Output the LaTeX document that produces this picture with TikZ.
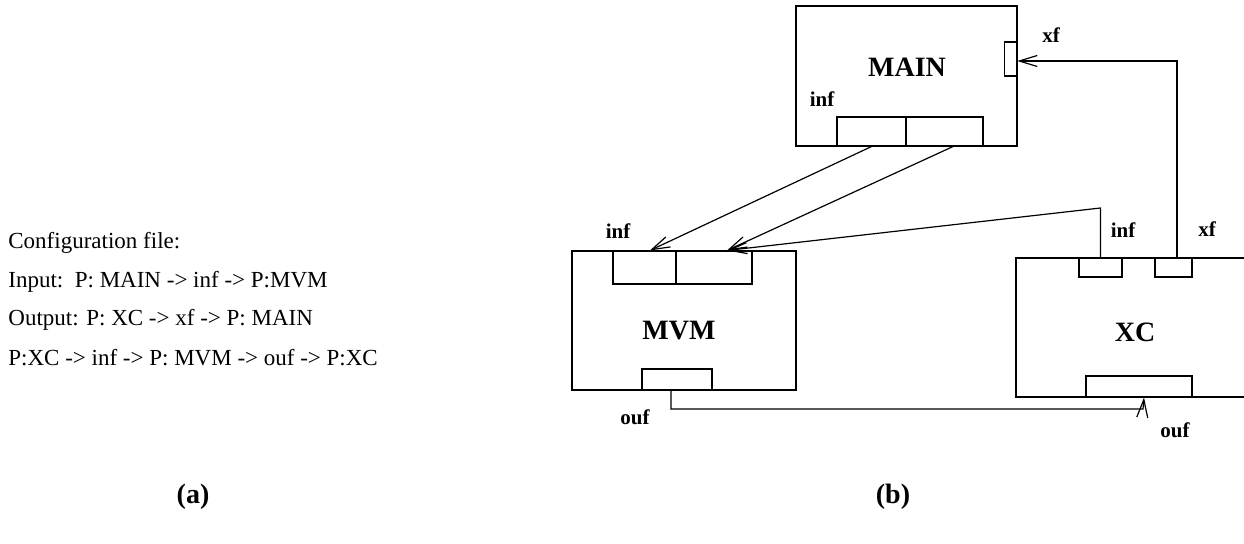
\documentclass[tikz,border=0pt]{standalone}
\usepackage{fontspec}
\setmainfont{Liberation Serif}
\usetikzlibrary{backgrounds,shapes,fit,arrows.meta}
\pgfdeclarelayer{edgelayer}
\pgfdeclarelayer{nodelayer}
\pgfsetlayers{edgelayer,nodelayer,main}
\tikzset{font=\fontsize{11.5}{13}\selectfont}
\tikzstyle{none}=[inner sep=0pt]
\tikzstyle{block}=[rectangle,draw,line width=0.6pt,inner sep=0pt]
\tikzstyle{port}=[rectangle,draw,line width=0.55pt,inner sep=0pt]
\tikzstyle{title}=[inner sep=0pt,font=\fontsize{14}{16}\selectfont\bfseries]
\tikzstyle{tag}=[inner sep=0pt,font=\fontsize{10.5}{12}\selectfont\bfseries]
\tikzstyle{cfg}=[inner sep=0pt,anchor=west]
\tikzstyle{arr}=[line width=0.6pt,-{Straight Barb[length=9pt,width=5.5pt,line width=0.6pt]}]

\begin{document}
\begin{tikzpicture}[x=0.5pt,y=-0.5pt]
	\clip (0,0) rectangle (1244,544);
	\begin{pgfonlayer}{nodelayer}
		% MAIN
		\node [style=block, minimum width=110.5pt, minimum height=70pt] (0) at (906.5, 76) {};
		\node [style=port, minimum width=6.25pt, minimum height=17pt] (1) at (1010.4, 59) {};
		\node [style=port, minimum width=34.5pt, minimum height=14.5pt] (2) at (871.5, 131.5) {};
		\node [style=port, minimum width=38.5pt, minimum height=14.5pt] (3) at (944.5, 131.5) {};
		% MVM
		\node [style=block, minimum width=112pt, minimum height=69.5pt] (4) at (684, 320.5) {};
		\node [style=port, minimum width=31.5pt, minimum height=16.5pt] (5) at (644.5, 267.5) {};
		\node [style=port, minimum width=38pt, minimum height=16.5pt] (6) at (714, 267.5) {};
		\node [style=port, minimum width=35pt, minimum height=10.5pt] (7) at (677, 379.5) {};
		% XC
		\node [style=block, minimum width=122pt, minimum height=69.5pt] (8) at (1138, 327.5) {};
		\node [style=port, minimum width=21.5pt, minimum height=9.5pt] (9) at (1100.5, 267.5) {};
		\node [style=port, minimum width=18.5pt, minimum height=9.5pt] (10) at (1173.5, 267.5) {};
		\node [style=port, minimum width=53pt, minimum height=10.5pt] (11) at (1139, 386.5) {};
		% corners
		\node [style=none] (12) at (1100.5, 208) {};
		\node [style=none] (13) at (1143, 409) {};
		% texts
		\node [style=title] (20) at (907, 67) {MAIN};
		\node [style=title] (21) at (679, 331) {MVM};
		\node [style=title] (22) at (1135, 332) {XC};
		\node [style=tag] (23) at (822, 99) {inf};
		\node [style=tag] (24) at (1051, 35) {xf};
		\node [style=tag] (25) at (618, 231) {inf};
		\node [style=tag] (26) at (635, 417) {ouf};
		\node [style=tag] (27) at (1123, 230) {inf};
		\node [style=tag] (28) at (1207, 229) {xf};
		\node [style=tag] (29) at (1175, 430) {ouf};
		\node [style=cfg] (30) at (8, 243) {Configuration file:};
		\node [style=cfg] (31) at (8, 282) {Input:\ \ P: MAIN -> inf -> P:MVM};
		\node [style=cfg] (32) at (8, 320) {Output: P: XC -> xf -> P: MAIN};
		\node [style=cfg] (33) at (8, 358) {P:XC -> inf -> P: MVM -> ouf -> P:XC};
		\node [style=title] (34) at (193, 497) {(a)};
		\node [style=title] (35) at (893, 497) {(b)};
	\end{pgfonlayer}
	\begin{pgfonlayer}{edgelayer}
		\draw [style=arr] (2.south) to ([xshift=2.75pt]5.north);
		\draw [style=arr] ([xshift=4.25pt]3.south) to ([xshift=6.5pt]6.north);
		\draw [style=arr] (9.north) to (12.center) to ([xshift=6.5pt]6.north);
		\draw [style=arr] ([xshift=1.75pt]10.north) |- ([yshift=-1pt]1.east);
		\draw [style=arr] ([xshift=-3pt]7.south) |- (13.center) to ([xshift=2.5pt]11.south);
	\end{pgfonlayer}
\end{tikzpicture}
\end{document}
